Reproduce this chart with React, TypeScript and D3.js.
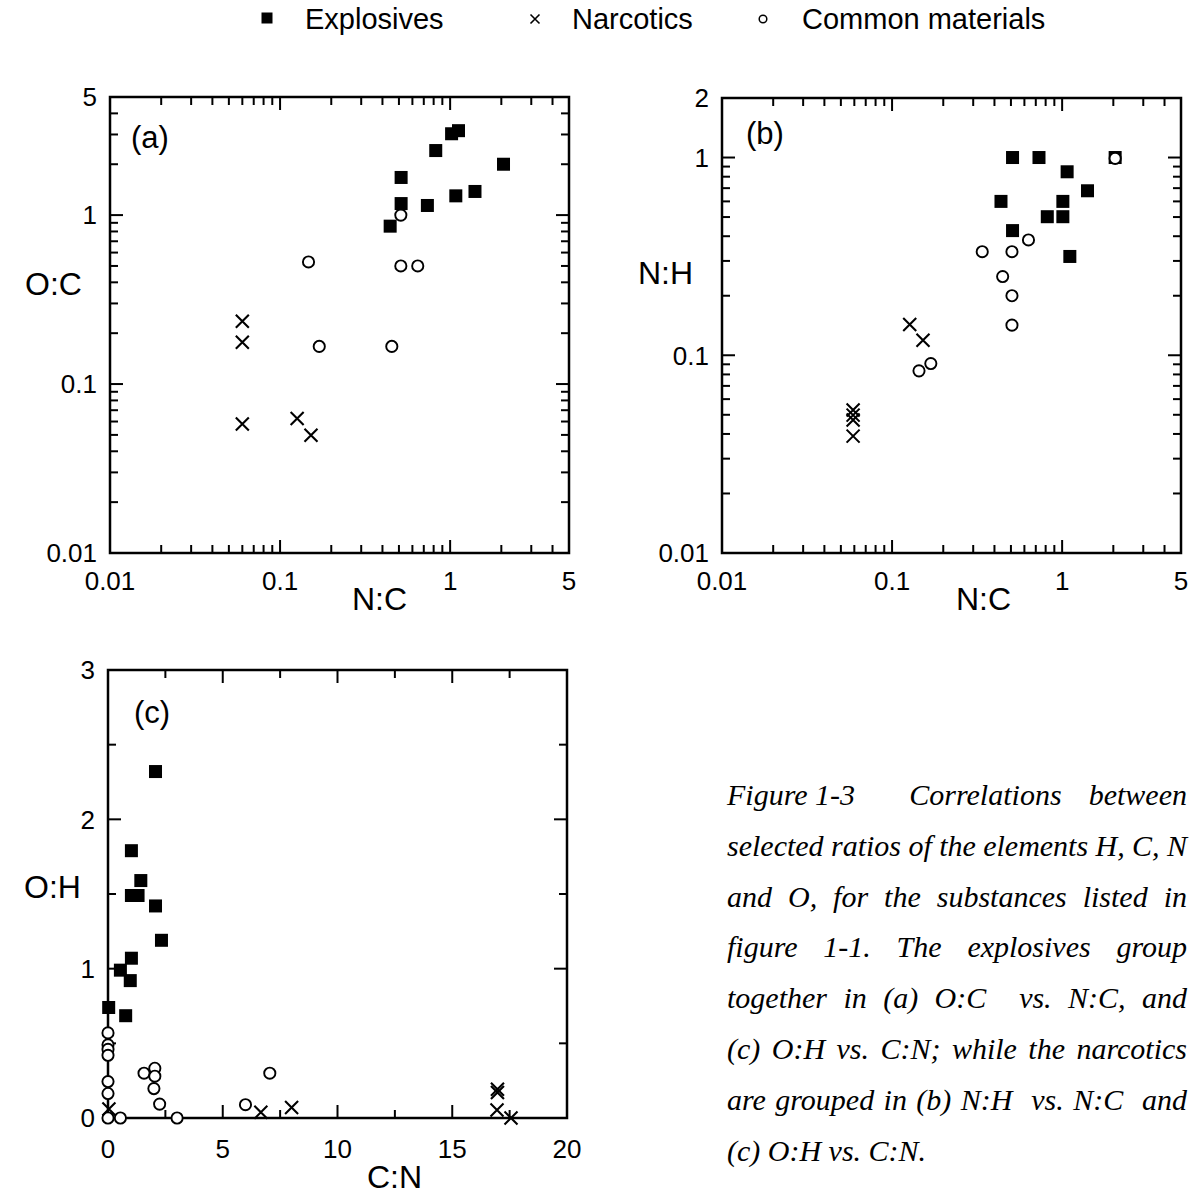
import React, { useMemo } from "react";
import * as d3 from "d3";

type Pt = [number, number];

const legendLabels = ["Explosives", "Narcotics", "Common materials"];

// Panel (a): x = N:C, y = O:C
const aExplosives: Pt[] = [[0.444, 0.86], [0.515, 1.67], [0.515, 1.17], [0.735, 1.14], [0.823, 2.41], [1.02, 3.03], [1.12, 3.16], [1.08, 1.3], [1.4, 1.38], [2.06, 2.0]];
const aNarcotics: Pt[] = [[0.06, 0.235], [0.06, 0.177], [0.06, 0.058], [0.126, 0.0625], [0.152, 0.0498]];
const aCommon: Pt[] = [[0.147, 0.528], [0.513, 1.0], [0.513, 0.5], [0.645, 0.5], [0.17, 0.167], [0.454, 0.167]];

// Panel (b): x = N:C, y = N:H
const bExplosives: Pt[] = [[0.511, 1.0], [0.731, 1.0], [1.07, 0.847], [1.41, 0.679], [0.437, 0.6], [1.01, 0.6], [0.818, 0.502], [1.01, 0.502], [0.511, 0.427], [1.11, 0.316], [2.05, 1.0]];
const bNarcotics: Pt[] = [[0.127, 0.143], [0.152, 0.119], [0.059, 0.0528], [0.059, 0.0498], [0.059, 0.047], [0.059, 0.039]];
const bCommon: Pt[] = [[2.05, 0.99], [0.634, 0.383], [0.339, 0.334], [0.507, 0.334], [0.447, 0.25], [0.507, 0.2], [0.507, 0.142], [0.144, 0.0834], [0.169, 0.0908]];

// Panel (c): x = C:N, y = O:H
const cExplosives: Pt[] = [[2.07, 2.32], [1.02, 1.79], [1.43, 1.59], [1.02, 1.49], [1.31, 1.49], [2.07, 1.42], [2.33, 1.19], [1.02, 1.07], [0.54, 0.99], [0.97, 0.92], [0.03, 0.74], [0.77, 0.685]];
const cNarcotics: Pt[] = [[16.97, 0.193], [16.97, 0.171], [16.95, 0.053], [17.56, 0.0], [6.66, 0.038], [8.0, 0.071], [0.04, 0.06]];
const cCommon: Pt[] = [[0, 0.57], [0, 0.49], [0, 0.46], [0, 0.42], [0, 0.244], [0, 0.164], [0, 0], [0.54, 0], [1.57, 0.3], [2.04, 0.333], [2.04, 0.28], [2.0, 0.197], [2.25, 0.093], [3.01, 0], [5.99, 0.089], [7.05, 0.3]];

// Tick labels
const logXLabels = [0.01, 0.1, 1, 5];
const aYLabels = [0.01, 0.1, 1, 5];
const bYLabels = [0.01, 0.1, 1, 2];
const cXLabels = [0, 5, 10, 15, 20];
const cYLabels = [0, 1, 2, 3];
const cXTicks = [0, 2.5, 5, 7.5, 10, 12.5, 15, 17.5, 20];
const cYTicks = [0, 0.5, 1, 1.5, 2, 2.5, 3];

const captionLines = [
  "Figure\u00a01-3  Correlations between",
  "selected ratios of the elements H, C, N",
  "and O, for the substances listed in",
  "figure 1-1. The explosives group",
  "together in (a) O:C  vs. N:C, and",
  "(c) O:H vs. C:N; while the narcotics",
  "are grouped in (b) N:H  vs. N:C  and",
  "(c) O:H vs. C:N.",
];

const SANS = "'Liberation Sans', Arial, Helvetica, sans-serif";
const SERIF = "'Liberation Serif', 'Times New Roman', serif";

function Square({ x, y, s = 13 }: { x: number; y: number; s?: number }) {
  return <rect x={x - s / 2} y={y - s / 2} width={s} height={s} fill="#000" />;
}
function Cross({ x, y, s = 6.5, w = 2.1 }: { x: number; y: number; s?: number; w?: number }) {
  return <path d={`M${x - s},${y - s}L${x + s},${y + s}M${x - s},${y + s}L${x + s},${y - s}`} stroke="#000" strokeWidth={w} fill="none" />;
}
function Circ({ x, y, r = 5.6, w = 1.9 }: { x: number; y: number; r?: number; w?: number }) {
  return <circle cx={x} cy={y} r={r} fill="#fff" stroke="#000" strokeWidth={w} />;
}

type PanelProps = {
  x: d3.ScaleContinuousNumeric<number, number>;
  y: d3.ScaleContinuousNumeric<number, number>;
  xTicks: number[];
  yTicks: number[];
  isMajorX: (v: number) => boolean;
  isMajorY: (v: number) => boolean;
  xLabels: number[];
  yLabels: number[];
  explosives: Pt[];
  narcotics: Pt[];
  common: Pt[];
  panelLabel: string;
  panelLabelPos: [number, number];
  xTitle: string;
  xTitlePos: [number, number];
  yTitle: string;
  yTitlePos: [number, number];
  xLabelBaseline: number;
};

function Panel(p: PanelProps) {
  const [xa, xb] = p.x.range();
  const [yb, ya] = p.y.range();
  const maj = 13;
  const min = 8;
  return (
    <g>
      {p.xTicks.map((v, i) => {
        const px = p.x(v);
        const L = p.isMajorX(v) ? maj : min;
        return (
          <g key={"xt" + i}>
            <line x1={px} x2={px} y1={yb} y2={yb - L} stroke="#000" strokeWidth={2} />
            <line x1={px} x2={px} y1={ya} y2={ya + L} stroke="#000" strokeWidth={2} />
          </g>
        );
      })}
      {p.yTicks.map((v, i) => {
        const py = p.y(v);
        const L = p.isMajorY(v) ? maj : min;
        return (
          <g key={"yt" + i}>
            <line x1={xa} x2={xa + L} y1={py} y2={py} stroke="#000" strokeWidth={2} />
            <line x1={xb} x2={xb - L} y1={py} y2={py} stroke="#000" strokeWidth={2} />
          </g>
        );
      })}
      <rect x={xa} y={ya} width={xb - xa} height={yb - ya} fill="none" stroke="#000" strokeWidth={2.5} />
      {p.xLabels.map((v, i) => (
        <text key={"xl" + i} x={p.x(v)} y={p.xLabelBaseline} textAnchor="middle" fontFamily={SANS} fontSize={26}>
          {String(v)}
        </text>
      ))}
      {p.yLabels.map((v, i) => (
        <text key={"yl" + i} x={xa - 13} y={p.y(v)} dy="0.36em" textAnchor="end" fontFamily={SANS} fontSize={26}>
          {String(v)}
        </text>
      ))}
      <text x={p.panelLabelPos[0]} y={p.panelLabelPos[1]} fontFamily={SANS} fontSize={31}>{p.panelLabel}</text>
      <text x={p.xTitlePos[0]} y={p.xTitlePos[1]} fontFamily={SANS} fontSize={32}>{p.xTitle}</text>
      <text x={p.yTitlePos[0]} y={p.yTitlePos[1]} fontFamily={SANS} fontSize={32}>{p.yTitle}</text>
      {p.explosives.map((d, i) => <Square key={"e" + i} x={p.x(d[0])} y={p.y(d[1])} />)}
      {p.common.map((d, i) => <Circ key={"c" + i} x={p.x(d[0])} y={p.y(d[1])} />)}
      {p.narcotics.map((d, i) => <Cross key={"n" + i} x={p.x(d[0])} y={p.y(d[1])} />)}
    </g>
  );
}

const isDecade = (v: number) => Math.abs(Math.log10(v) - Math.round(Math.log10(v))) < 1e-9;

function Caption() {
  const left = 727;
  const right = 1187;
  const base0 = 805;
  const lh = 50.8;
  const fontSize = 30;
  const items = useMemo(() => {
    const canvas = document.createElement("canvas");
    const ctx = canvas.getContext("2d")!;
    ctx.font = `italic ${fontSize}px 'Liberation Serif'`;
    const out: { t: string; x: number; y: number }[] = [];
    captionLines.forEach((line, li) => {
      const y = base0 + li * lh;
      const parts = line.split(/( +)/);
      const words: string[] = [];
      const gaps: number[] = [];
      parts.forEach((s, k) => {
        if (k % 2 === 0) words.push(s.replace(/\u00a0/g, " "));
        else gaps.push(s.length);
      });
      const widths = words.map((w) => ctx.measureText(w).width);
      const last = li === captionLines.length - 1;
      const spaceW = ctx.measureText(" ").width;
      const totalGap = gaps.reduce((a, b) => a + b, 0);
      const unit = last || totalGap === 0 ? spaceW : (right - left - d3.sum(widths)) / totalGap;
      let cx = left;
      words.forEach((w, k) => {
        out.push({ t: w, x: cx, y });
        cx += widths[k] + (k < gaps.length ? (last ? spaceW : gaps[k] * unit) : 0);
      });
    });
    return out;
  }, []);
  return (
    <g>
      {items.map((d, i) => (
        <text key={i} x={d.x} y={d.y} fontFamily={SERIF} fontStyle="italic" fontSize={fontSize} style={{ whiteSpace: "pre" }}>
          {d.t}
        </text>
      ))}
    </g>
  );
}

export default function App() {
  const ax = d3.scaleLog().domain([0.01, 5]).range([110, 569]);
  const ay = d3.scaleLog().domain([0.01, 5]).range([553, 97]);
  const bx = d3.scaleLog().domain([0.01, 5]).range([722, 1181]);
  const by = d3.scaleLog().domain([0.01, 2]).range([553, 98]);
  const cx = d3.scaleLinear().domain([0, 20]).range([108, 567]);
  const cy = d3.scaleLinear().domain([0, 3]).range([1118, 670]);

  return (
    <svg width={1194} height={1194} style={{ position: "absolute", left: 0, top: 0, background: "#fff" }}>
      <rect x={0} y={0} width={1194} height={1194} fill="#fff" />
      <g fontFamily={SANS} fontSize={29}>
        <Square x={267} y={18} s={11} />
        <text x={305} y={29}>{legendLabels[0]}</text>
        <Cross x={535} y={19} s={4.5} w={1.6} />
        <text x={572} y={29}>{legendLabels[1]}</text>
        <Circ x={763} y={19} r={3.8} w={1.5} />
        <text x={802} y={29}>{legendLabels[2]}</text>
      </g>
      <Panel
        x={ax} y={ay}
        xTicks={ax.ticks()} yTicks={ay.ticks()}
        isMajorX={isDecade} isMajorY={isDecade}
        xLabels={logXLabels} yLabels={aYLabels}
        explosives={aExplosives} narcotics={aNarcotics} common={aCommon}
        panelLabel="(a)" panelLabelPos={[131, 148]}
        xTitle="N:C" xTitlePos={[352, 610]}
        yTitle="O:C" yTitlePos={[25, 295]}
        xLabelBaseline={590}
      />
      <Panel
        x={bx} y={by}
        xTicks={bx.ticks()} yTicks={by.ticks()}
        isMajorX={isDecade} isMajorY={isDecade}
        xLabels={logXLabels} yLabels={bYLabels}
        explosives={bExplosives} narcotics={bNarcotics} common={bCommon}
        panelLabel="(b)" panelLabelPos={[746, 144]}
        xTitle="N:C" xTitlePos={[956, 610]}
        yTitle="N:H" yTitlePos={[638, 284]}
        xLabelBaseline={590}
      />
      <Panel
        x={cx} y={cy}
        xTicks={cXTicks} yTicks={cYTicks}
        isMajorX={(v) => v % 5 === 0} isMajorY={(v) => v % 1 === 0}
        xLabels={cXLabels} yLabels={cYLabels}
        explosives={cExplosives} narcotics={cNarcotics} common={cCommon}
        panelLabel="(c)" panelLabelPos={[134, 723]}
        xTitle="C:N" xTitlePos={[367, 1188]}
        yTitle="O:H" yTitlePos={[24, 898]}
        xLabelBaseline={1158}
      />
      <Caption />
    </svg>
  );
}
